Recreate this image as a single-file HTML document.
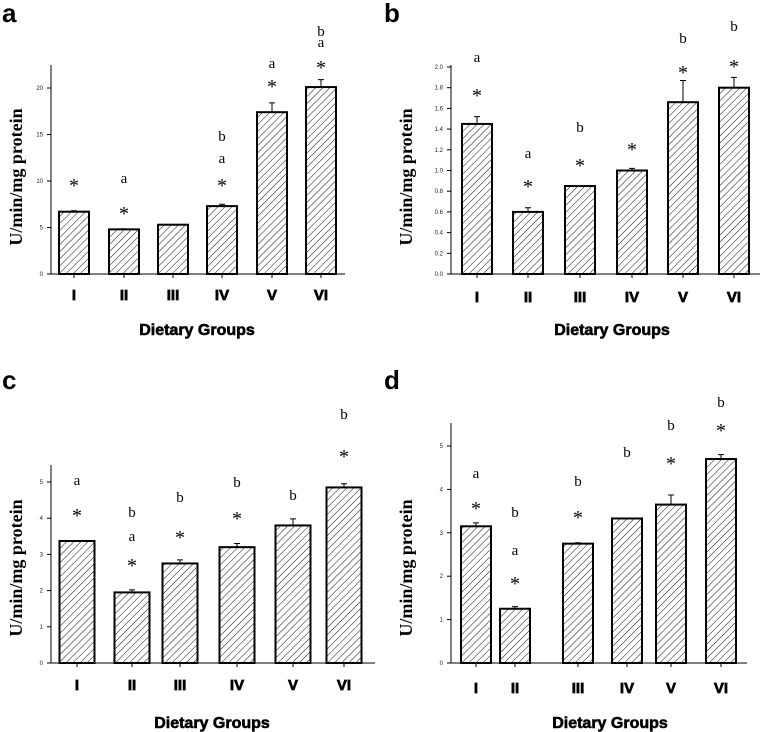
<!DOCTYPE html>
<html><head><meta charset="utf-8"><style>
body{margin:0;background:#fff;width:761px;height:732px;overflow:hidden}
svg{display:block}
.tk{font:6px "Liberation Sans",sans-serif;fill:#222}
.cat{font:bold 15px "Liberation Sans",sans-serif;stroke:#000;stroke-width:0.7}
.ttl{font:bold 16px "Liberation Sans",sans-serif;stroke:#000;stroke-width:0.6}
.yt{font:bold 18px "Liberation Serif",serif}
.ann{font:15px "Liberation Serif",serif}
.ast{font:20px "Liberation Serif",serif}
.let{font:bold 26px "Liberation Sans",sans-serif}
</style></head><body>
<svg id="fig" width="761" height="732" viewBox="0 0 761 732">
<defs>
<pattern id="hatch" width="5" height="5" patternUnits="userSpaceOnUse" patternTransform="rotate(45)">
<line x1="0" y1="0" x2="0" y2="5" stroke="#111" stroke-width="1"/>
</pattern>
</defs>
</svg>
<script>
const cats=["I","II","III","IV","V","VI"];
const valsA=[6.7,4.8,5.3,7.3,17.4,20.1];
const errA=[0.1,0.05,0,0.2,1.0,0.8];
const ticksA=[0,5,10,15,20];
const valsB=[1.45,0.6,0.85,1.0,1.66,1.8];
const errB=[0.07,0.04,0,0.02,0.21,0.1];
const ticksB=[0,0.2,0.4,0.6,0.8,1.0,1.2,1.4,1.6,1.8,2.0];
const valsC=[3.37,1.95,2.75,3.2,3.8,4.85];
const errC=[0,0.07,0.1,0.1,0.18,0.1];
const ticksC=[0,1,2,3,4,5];
const valsD=[3.15,1.25,2.75,3.33,3.65,4.7];
const errD=[0.08,0.05,0.02,0,0.22,0.1];
const ticksD=[0,1,2,3,4,5];
const annA=[["*"],["a","*"],[],["b","a","*"],["a","*"],["b","a","*"]];
const annB=[["a","*"],["a","*"],["b","*"],["*"],["b","*"],["b","*"]];
const annC=[["a","*"],["b","a","*"],["b","*"],["b","*"],["b"],["b","*"]];
const annD=[["a","*"],["b","a","*"],["b","*"],["b"],["b","*"],["b","*"]];

const NS="http://www.w3.org/2000/svg";
const svg=document.getElementById('fig');
function mk(t,a,p){const e=document.createElementNS(NS,t);for(const k in a)e.setAttribute(k,a[k]);(p||svg).appendChild(e);return e;}

const panels=[
 {id:"a",vals:valsA,err:errA,ticks:ticksA,ann:annA,fmt:v=>String(v),ax:51,base:274,top:65,xend:345,pxu:9.3,cx:[74,124,173,222,272,321],bw:30,laby:300,ttlx:197,ttly:335,ytx:22,yty:177,letx:2,lety:22,
  annY:[[180],[178,208],[],[136,158,180],[63,81],[31,42,62]]},
 {id:"b",vals:valsB,err:errB,ticks:ticksB,ann:annB,fmt:v=>v.toFixed(1),ax:451,base:274,top:65,xend:760,pxu:103.5,cx:[477,528,580,632,683,734],bw:30,laby:302,ttlx:612,ttly:335,ytx:412,yty:177,letx:384,lety:22,
  annY:[[57,90],[153,181],[127,160],[144],[38,67],[26,61]]},
 {id:"c",vals:valsC,err:errC,ticks:ticksC,ann:annC,fmt:v=>String(v),ax:51,base:663,top:465,xend:375,pxu:36.2,cx:[77,132,180,237,293,344],bw:35,laby:690,ttlx:212,ttly:728,ytx:22,yty:568,letx:2,lety:389,
  annY:[[480,510],[512,536,560],[497,532],[482,513],[495],[414,451]]},
 {id:"d",vals:valsD,err:errD,ticks:ticksD,ann:annD,fmt:v=>String(v),ax:451,base:663,top:423,xend:747,pxu:43.4,cx:[476,515,578,627,671,721],bw:30,laby:693,ttlx:610,ttly:728,ytx:412,yty:568,letx:384,lety:389,
  annY:[[473,503],[512,550,578],[481,512],[452],[425,458],[402,425]]}
];

panels.forEach(P=>{
 const g=mk('g',{});
 
 
 const y=v=>P.base-v*P.pxu;
 const L=mk('text',{x:P.letx,y:P.lety,class:'let'},g);L.textContent=P.id;
 
 P.vals.forEach((v,i)=>{
  const r=mk('rect',{x:P.cx[i]-P.bw/2,y:y(v),width:P.bw,height:P.base-y(v),fill:'url(#hatch)',stroke:'#000','stroke-width':2},g);
  
  
  if(P.err[i]>0){
   const e=mk('path',{d:`M${P.cx[i]} ${y(v)}V${y(v+P.err[i])}M${P.cx[i]-3} ${y(v+P.err[i])}H${P.cx[i]+3}`,stroke:'#000','stroke-width':1,fill:'none'},g);
   
   
  }
  const t=mk('text',{x:P.cx[i],y:P.laby,'text-anchor':'middle',class:'cat'},g);t.textContent=cats[i];
  
  P.ann[i].forEach((s,j)=>{
   const isA=s==='*';
   const a=mk('text',{x:P.cx[i],y:P.annY[i][j]+(isA?12:5),'text-anchor':'middle',class:isA?'ast':'ann'},g);a.textContent=s;
   
  });
 });
 const ax=mk('path',{d:`M${P.ax} ${P.top}V${P.base}H${P.xend}`,stroke:'#000','stroke-width':1,fill:'none'},g);
 
 P.ticks.forEach(v=>{
  mk('line',{x1:P.ax-4,x2:P.ax,y1:y(v),y2:y(v),stroke:'#000'},g);
  const t=mk('text',{x:P.ax-8,y:y(v)+2,'text-anchor':'end',class:'tk'},g);t.textContent=P.fmt(v);
  
 });
 for(let i=0;i<6;i++){mk('line',{x1:P.cx[i],x2:P.cx[i],y1:P.base,y2:P.base+4,stroke:'#000'},g);}
 const xt=mk('text',{x:P.ttlx,y:P.ttly,'text-anchor':'middle',class:'ttl'},g);xt.textContent='Dietary Groups';
 
 const yt=mk('text',{x:P.ytx,y:P.yty,'text-anchor':'middle',class:'yt',transform:`rotate(-90 ${P.ytx} ${P.yty})`},g);yt.textContent='U/min/mg protein';
 
});
</script>
</body></html>
